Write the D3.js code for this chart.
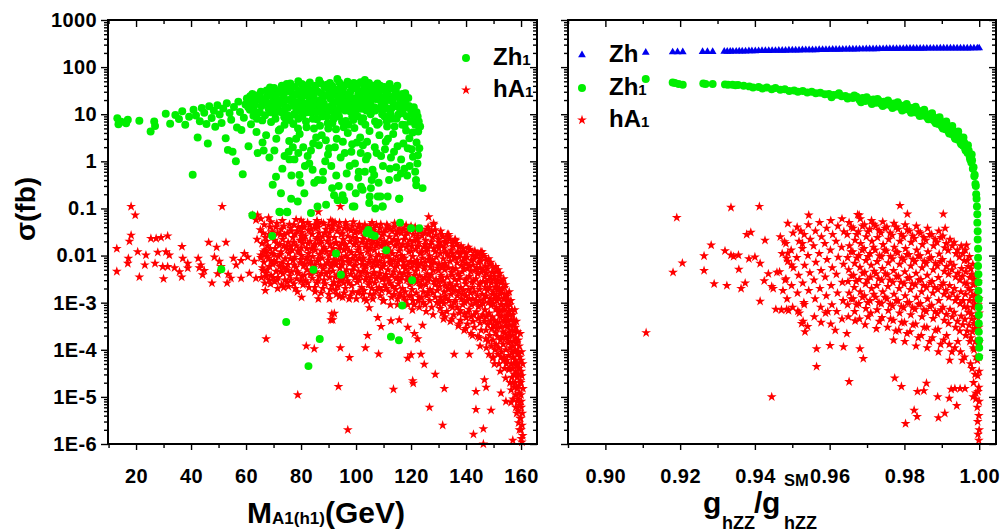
<!DOCTYPE html>
<html>
<head>
<meta charset="utf-8">
<script src="https://cdn.jsdelivr.net/npm/d3@7"></script>
<style>
  body { margin: 0; background: #fff; }
  text { font-family: "Liberation Sans", Arial, Helvetica, sans-serif; font-weight: bold; fill: #000; }
</style>
</head>
<body>
<svg id="chart" width="1002" height="532"></svg>
<script>
// ---------- axis ticks ----------
const yMajorTicks = [1e-6, 1e-5, 1e-4, 1e-3, 0.01, 0.1, 1, 10, 100, 1000];
const massLabelTicks = [20, 40, 60, 80, 100, 120, 140, 160];
const massMinorTicks = [10, 30, 50, 70, 90, 110, 130, 150];
const couplingLabelTicks = [0.90, 0.92, 0.94, 0.96, 0.98, 1.00];
const couplingMinorTicks = [0.89, 0.91, 0.93, 0.95, 0.97, 0.99];

// ---------- left panel: sigma vs M_A1(h1), [GeV, fb] ----------
const zh1VsMass = [
  [13.2,8.2],[13.6,6.1],[14.6,6.9],[16.4,6.4],[17.0,7.6],[21.2,7.3],[25.3,4.3],[26.6,7.0],[26.9,5.6],[30.8,10.2],
  [32.4,6.3],[34.3,9.6],[35.6,7.9],[36.8,11.5],[37.9,6.0],[39.3,8.8],[40.6,0.52],[40.9,12.5],[41.8,9.4],[42.4,3.2],
  [43.2,7.1],[43.9,13.5],[44.8,10.8],[45.6,6.2],[46.1,2.4],[46.6,14.8],[47.5,8.3],[48.3,11.9],[48.8,5.4],[49.6,15.5],
  [50.4,9.9],[51.1,6.5],[51.7,13.2],[52.6,3.1],[53.0,17.1],[53.4,1.75],[54.0,10.6],[54.6,7.6],[55.1,1.6],[55.6,14.2],
  [56.3,1.0],[56.7,5.2],[57.2,18.5],[57.8,11.2],[58.3,4.6],[58.8,0.53],[59.2,8.4],[59.8,16.0],[60.3,21.5],[60.9,2.1],
  [61.4,12.4],[61.8,6.1],[62.3,27],[62.7,9.3],[63.2,15.8],[63.8,4.2],[64.2,1.5],[64.5,20.5],[65.0,11.0],[65.4,30],
  [65.9,7.4],[66.4,1.7],[66.7,17.5],[67.3,3.6],[67.8,24],[68.2,13.0],[68.7,37],[69.1,6.8],[69.7,0.32],[70.0,19.5],
  [70.3,1.7],[70.5,10.2],[70.9,0.47],[71.2,28],[71.6,15.2],[72.1,0.085],[72.4,4.8],[72.7,0.21],[73.0,40],[73.4,22],
  [73.9,8.6],[74.0,1.3],[74.5,33],[74.9,0.085],[75.2,13.8],[75.7,2.7],[76.1,45],[76.4,0.16],[76.5,0.5],[76.8,18.6],
  [77.2,6.2],[77.6,1.1],[77.9,26],[78.3,11.4],[78.8,0.14],[79.0,50],[79.4,0.51],[79.5,3.8],[80.0,21],[80.5,9.2],
  [80.9,35],[81.2,0.21],[81.5,14.6],[82.0,5.3],[82.4,1.3],[82.6,42],[83.0,24],[83.6,0.08],[83.7,11.0],[84.2,0.66],
  [84.4,2.4],[84.9,30],[85.3,16.8],[85.8,7.8],[86.0,0.11],[86.1,0.4],[86.6,52],[87.0,20],[87.5,3.6],[87.9,0.4],
  [88.0,12.2],[88.6,38],[89.1,0.12],[89.2,25],[89.7,6.4],[90.2,1.9],[90.5,46],[91.0,15],[91.3,0.27],[91.6,31],
  [92.0,0.19],[92.1,9.6],[92.7,4.8],[93.2,56],[93.3,0.15],[93.6,22],[94.1,13.4],[94.6,40],[95.1,0.19],[95.2,2.6],
  [95.7,0.15],[95.8,18],[96.3,7.2],[96.9,49],[97.3,27],[97.6,0.29],[97.8,11.5],[98.3,1.6],[98.8,0.11],[98.9,36],
  [99.4,5.1],[99.9,0.21],[100.0,20],[100.5,44],[101.0,13],[101.5,3.2],[101.8,0.29],[102.1,30],[102.4,0.25],[102.6,8.2],
  [103.2,53],[103.6,1.1],[103.7,17],[104.3,24],[104.8,0.13],[104.9,4.4],[105.0,0.18],[105.4,0.27],[105.5,38],[106.0,0.66],
  [106.1,11.8],[106.6,0.51],[106.8,2.0],[107.2,21],[107.8,45],[107.9,0.18],[108.3,6.5],[108.9,0.18],[109.1,1.3],[109.2,15],
  [109.7,0.11],[109.9,33],[110.4,9.0],[110.9,26],[111.5,0.18],[111.6,3.0],[112.0,0.4],[112.2,44],[112.7,1.2],[112.8,13],
  [113.4,20],[114.0,5.5],[114.5,31],[115.1,2.1],[115.3,9.8],[115.7,0.16],[116.0,17],[116.3,0.55],[116.4,1.1],[116.9,27],
  [117.0,10.5],[117.6,0.7],[117.7,5.9],[118.2,4.5],[118.3,14],[118.8,1.9],[119.0,22],[119.4,3.1],[119.5,0.8],[120.0,12],
  [120.6,4.1],[120.7,1.25],[121.2,8.0],[121.8,0.4],[121.9,0.31],[122.0,2.5],[122.4,9.0],[122.5,1.35],[122.3,0.9],[122.6,4.3],
  [123.0,1.9],[124.2,0.27],
  [70.8,25],[72.0,12],[73.5,17],[75.0,9.5],[76.0,30],[77.5,15],[79.0,8],[80.2,27],[81.0,17],[82.2,11],
  [83.4,32],[84.3,8],[85.0,19],[86.3,13],[87.4,28],[88.3,17],[89.5,9],[90.0,34],[90.8,21],[91.8,13],
  [92.5,26],[93.8,9],[94.3,17],[95.0,29],[96.0,12],[96.6,22],[97.5,15],[98.2,41],[99.0,19],[99.7,11],
  [100.8,27],[101.3,17],[102.0,7],[102.8,21],[103.8,12],[104.5,33],[105.2,18],[106.4,28],[107.0,12],[108.0,30],
  [108.6,20],[109.5,10],[110.2,18],[111.0,13],[111.8,24],[113.0,8],[114.2,15],[115.6,23],[116.5,12],[117.8,19],
  [85.5,3.2],[89.0,2.8],[93.0,3.0],[97.0,4.0],[100.3,2.5],[104.0,2.6],[108.5,3.6],[111.3,5.5],[78.2,3.0],[74.0,6.0],
  [86.9,5.7],[91.4,6.5],[95.5,5.3],[99.0,7.5],[106.9,7.0],[113.5,3.8],[80.8,2.0],[88.8,1.0],[94.4,1.2],[101.7,1.5],
  [110.5,1.8],[75.5,1.6],[83.0,0.9],[97.7,0.8],[103.2,0.6],[114.6,0.75],[79.8,0.35],[92.8,0.5],[100.8,0.45],[108.2,0.35],
  [60.8,14],[61.5,24],[62.0,18],[62.9,12],[63.5,22],[64.0,8],[64.8,26],[65.6,15],[66.2,21],[66.9,9.5],
  [67.5,32],[68.0,17],[68.9,11],[69.4,27],[69.9,14],[70.2,36],[70.7,8],[71.4,20],[71.9,4.5],[72.3,31],
  [72.9,11],[73.7,26],[74.2,13],[74.8,44],[75.4,20],[75.9,7.5],[76.4,36],[77.0,23],[77.4,10],[77.8,38],
  [78.5,18],[78.9,5],[79.3,31],[79.7,14],[80.3,44],[80.7,12],[81.3,25],[81.8,7],[82.3,33],[82.8,18],
  [83.2,47],[83.9,14],[84.6,24],[84.7,5],[85.2,40],[85.7,11],[86.2,30],[86.8,16],[87.2,45],[87.7,9],
  [88.4,24],[88.9,14],[89.4,42],[89.9,5],[90.3,12],[90.9,28],[91.3,40],[91.9,8],[92.3,18],[92.9,33],
  [93.4,11],[93.9,47],[94.5,24],[94.9,7],[95.3,36],[95.9,14],[96.4,42],[96.8,18],[97.2,6],[97.9,30],
  [98.5,22],[98.6,9],[99.2,46],[99.6,14],[100.2,35],[100.7,9],[101.2,24],[101.6,48],[102.3,13],[102.9,38],
  [103.4,6],[103.9,28],[104.4,15],[104.7,46],[105.3,10],[105.8,24],[106.3,40],[106.7,14],[107.4,33],[107.7,6],
  [108.4,25],[108.8,40],[109.4,13],[109.8,22],[110.3,38],[110.7,14],[111.2,7],[111.4,30],[112.0,20],[112.5,10],
  [113.0,35],[113.6,16],[114.0,25],[114.7,8],[115.0,40],[115.5,14],[116.2,22],[116.8,6],[117.3,16],[117.9,28],
  [118.5,9],[119.2,15],[119.8,7],[120.5,10],[121.0,14],[121.5,6],[122.0,11],[122.8,7],[123.3,5.5],
  [66.0,2.5],[68.5,1.2],[71.0,3.0],[73.2,0.7],[75.8,1.1],[77.0,2.0],[79.0,1.5],[81.4,0.8],[83.6,1.7],[84.8,0.35],
  [86.5,2.2],[88.0,0.6],[89.8,1.4],[91.0,0.8],[92.3,2.0],[93.7,0.3],[95.9,1.5],[96.6,0.55],[98.6,2.3],[99.6,0.9],
  [101.0,0.6],[102.5,2.2],[104.2,1.3],[105.7,0.4],[107.5,1.5],[109.8,0.8],[110.8,2.6],[112.3,0.7],[113.8,1.6],[115.0,0.45],
  [117.2,2.4],[118.6,0.5],[120.2,1.8],[121.5,0.6],
  [51.0,0.0051],[62.3,0.072],[69.5,0.026],[72.4,0.083],[75.0,0.083],[74.6,3.9e-4],[82.7,4.5e-5],[86.8,1.7e-4],[92.7,0.011],[94.5,0.0039],
  [84.5,0.005],[99.4,0.11],[107.0,0.1],[109.6,0.11],[104.5,0.035],[105.5,0.028],[106.8,0.026],[103.8,0.03],[111.0,0.013],[116.0,0.05],
  [120.0,0.038],[123.0,0.038],[115.7,0.16],[120.4,0.003],[116.8,8.7e-4],[112.7,1.9e-4],[115.6,1.6e-4]
];

const hA1VsMass = [
  // low-mass tail
  [13.0,0.014],[13.0,0.0046],[17.6,0.02],[18.2,0.027],[18.2,0.11],[19.7,0.072],[17.2,0.0087],[17.0,0.0068],[20.6,0.012],[21.2,0.0035],
  [23.6,0.0102],[23.2,0.0063],[25.4,0.023],[27.3,0.023],[29.1,0.024],[31.5,0.026],[26.9,0.0068],[27.9,0.0117],[30.9,0.012],[32.1,0.0102],
  [29.7,0.0058],[31.5,0.0058],[34.0,0.0055],[35.8,0.0045],[36.6,0.0035],[30.0,0.0032],[36.7,0.0155],[37.0,0.0087],[38.8,0.0068],[38.8,0.0054],
  [42.6,0.0087],[43.6,0.0063],[44.2,0.0039],[44.8,0.0048],[43.0,0.0055],[46.4,0.019],[49.3,0.015],[47.6,0.0026],[48.5,0.0093],[50.3,0.0075],
  [50.9,0.0058],[49.7,0.0041],[51.3,0.11],[52.7,0.019],[53.5,0.004],[54.5,0.0033],[53.1,0.0026],[55.4,0.0087],[56.4,0.0063],[58.2,0.0078],
  [59.4,0.011],[60.6,0.0093],[61.2,0.0042],[58.2,0.0033],[63.0,0.0075],[63.6,0.0033],[64.0,0.022],[62.4,0.072],[64.2,0.072],[63.6,0.057],
  [65.4,0.06],[68.2,0.063],[65.4,0.0102],[67.3,0.012],[69.1,0.0075],[67.0,0.0018],[67.3,1.7e-4],[71.5,0.002],[80.2,0.0013],[81.9,1.2e-4],
  [84.8,1.05e-4],[78.8,1.1e-5],[91.5,4.3e-4],[91.2,5.8e-4],[86.3,0.0012],[90.3,0.0012],[94.0,0.0014],[86.3,0.085],[94.3,0.11],[80.0,0.056],
  [80.3,0.041],[86.0,0.048],[91.5,0.052],
  // scattered low values
  [94.3,1.1e-4],[97.6,6.8e-5],[103.4,1.1e-4],[108.2,8.1e-5],[104.2,2e-4],[93.6,1.66e-5],[97.0,2e-6],[113.6,1.45e-5],[120.6,2.2e-5],[120.8,1.95e-5],
  [118.8,6.6e-5],[120.0,7.8e-5],[123.6,8e-5],[124.8,4.9e-5],[126.7,6e-6],[128.8,3e-5],[131.5,2.5e-6],[132.1,1.5e-5],[135.7,8e-5],[141.2,8e-5],
  [142.7,1.6e-6],[143.6,5.4e-6],[143.6,1.3e-5],[146.3,2.1e-6],[146.3,1.0e-6],[146.7,2.3e-5],[147.3,1.6e-5],[149.1,5.2e-6],[152.7,1.2e-5],[154.5,8e-6],
  [156.4,7.6e-6],[149.7,6.6e-5],[157.0,1.2e-6],[92.1,5.9e-4],[90.9,4.3e-4],[94.0,0.00135],[104.8,7.8e-4],[107.9,4.8e-4],[109.1,3.1e-4],[112.7,4.1e-4],
  [115.7,4.3e-4],[118.8,3e-4],[121.2,2.2e-4],[122.4,1.7e-4],[124.2,3.3e-4],[126.4,0.066],[128.2,0.048],[133.7,0.028],[136.0,0.022],[145.4,0.012],
  // main band
  [65.2,0.035],[65.8,0.018],[65.4,0.009],[66.0,0.0055],[65.6,0.0034],
  [66.6,0.045],[67.1,0.024],[66.9,0.013],[66.5,0.0072],[67.2,0.0042],[66.8,0.0026],
  [68.3,0.028],[67.8,0.016],[68.1,0.0088],[67.7,0.005],[68.4,0.003],
  [69.0,0.052],[69.6,0.032],[69.2,0.011],[69.7,0.0065],[69.1,0.0038],
  [70.8,0.04],[70.3,0.021],[70.6,0.014],[70.2,0.0078],[70.9,0.0046],[70.4,0.0028],
  [71.5,0.03],[72.1,0.017],[71.7,0.0095],[72.2,0.0058],[71.6,0.0034],
  [73.2,0.055],[72.8,0.036],[73.3,0.022],[72.7,0.012],[73.1,0.007],[73.4,0.0041],[72.9,0.0024],
  [74.0,0.027],[74.6,0.015],[74.2,0.0085],[74.7,0.0052],[74.1,0.003],
  [75.8,0.046],[75.3,0.019],[75.6,0.011],[75.2,0.0064],[75.9,0.0037],[75.4,0.0022],
  [76.5,0.033],[77.0,0.024],[76.7,0.013],[77.1,0.0078],[76.6,0.0045],
  [78.2,0.058],[77.8,0.028],[78.3,0.016],[77.7,0.0092],[78.1,0.0056],[78.4,0.0032],[77.9,0.002],
  [79.0,0.04],[79.6,0.021],[79.2,0.012],[79.7,0.007],[79.1,0.0042],
  [80.8,0.05],[80.3,0.031],[80.6,0.018],[80.2,0.01],[80.9,0.006],[80.4,0.0036],[80.7,0.0024],
  [81.5,0.026],[82.1,0.014],[81.7,0.0083],[82.2,0.005],[81.6,0.0029],
  [83.2,0.044],[82.8,0.034],[83.3,0.02],[82.7,0.011],[83.1,0.0068],[83.4,0.004],[82.9,0.0021],
  [84.0,0.028],[84.6,0.016],[84.2,0.0095],[84.7,0.0055],[84.1,0.0033],
  [85.8,0.055],[85.3,0.038],[85.6,0.022],[85.2,0.013],[85.9,0.0075],[85.4,0.0045],[85.7,0.0026],[85.1,0.0017],
  [86.5,0.03],[87.0,0.018],[86.7,0.0105],[87.1,0.0062],[86.6,0.0036],
  [88.2,0.048],[87.8,0.025],[88.3,0.015],[87.7,0.0088],[88.1,0.0052],[88.4,0.003],[87.9,0.002],
  [89.0,0.036],[89.6,0.02],[89.2,0.012],[89.7,0.007],[89.1,0.0041],
  [90.8,0.056],[90.3,0.03],[90.6,0.017],[90.2,0.0098],[90.9,0.0058],[90.4,0.0034],[90.7,0.0019],
  [91.5,0.042],[92.1,0.024],[91.7,0.014],[92.2,0.008],[91.6,0.0047],[92.0,0.0027],
  [93.2,0.033],[92.8,0.019],[93.3,0.011],[92.7,0.0064],[93.1,0.0038],[93.4,0.0022],[92.9,0.0015],
  [94.0,0.05],[94.6,0.028],[94.2,0.016],[94.7,0.0092],[94.1,0.0054],[94.5,0.0031],
  [95.8,0.038],[95.3,0.022],[95.6,0.013],[95.2,0.0075],[95.9,0.0044],[95.4,0.0026],[95.7,0.0016],
  [96.5,0.045],[97.0,0.026],[96.7,0.015],[97.1,0.0085],[96.6,0.005],[96.9,0.0029],
  [98.2,0.034],[97.8,0.02],[98.3,0.0115],[97.7,0.0068],[98.1,0.004],[98.4,0.0023],[97.9,0.0014],
  [99.0,0.052],[99.6,0.03],[99.2,0.017],[99.7,0.01],[99.1,0.0058],[99.5,0.0034],
  [100.8,0.04],[100.3,0.023],[100.6,0.013],[100.2,0.0078],[100.9,0.0046],[100.4,0.0027],[100.7,0.0016],
  [101.5,0.032],[102.1,0.019],[101.7,0.011],[102.2,0.0064],[101.6,0.0037],[102.0,0.0021],
  [103.2,0.045],[102.8,0.026],[103.3,0.015],[102.7,0.0088],[103.1,0.0052],[103.4,0.003],[102.9,0.0018],[103.0,0.0012],
  [104.0,0.036],[104.6,0.021],[104.2,0.012],[104.7,0.0071],[104.1,0.0042],[104.5,0.0024],
  [105.8,0.05],[105.3,0.029],[105.6,0.017],[105.2,0.0098],[105.9,0.0057],[105.4,0.0033],[105.7,0.002],
  [106.5,0.038],[107.0,0.022],[106.7,0.013],[107.1,0.0076],[106.6,0.0044],[106.9,0.0026],[106.4,0.0015],
  [108.2,0.031],[107.8,0.018],[108.3,0.0105],[107.7,0.0062],[108.1,0.0036],[108.4,0.0021],
  [109.0,0.046],[109.6,0.027],[109.2,0.016],[109.7,0.0092],[109.1,0.0054],[109.5,0.0031],[109.3,0.0018],[109.8,0.0011],
  [110.8,0.035],[110.3,0.02],[110.6,0.0118],[110.2,0.0069],[110.9,0.004],[110.4,0.0024],
  [111.5,0.042],[112.1,0.025],[111.7,0.0145],[112.2,0.0085],[111.6,0.005],[112.0,0.0029],[111.9,0.0017],
  [113.2,0.033],[112.8,0.019],[113.3,0.011],[112.7,0.0065],[113.1,0.0038],[113.4,0.0022],[112.9,0.0013],
  [114.0,0.048],[114.6,0.028],[114.2,0.016],[114.7,0.0095],[114.1,0.0056],[114.5,0.0032],[114.4,0.0019],
  [115.8,0.037],[115.3,0.021],[115.6,0.0125],[115.2,0.0073],[115.9,0.0043],[115.4,0.0025],[115.7,0.0014],[115.1,0.0009],
  [116.5,0.03],[117.0,0.017],[116.7,0.01],[117.1,0.0059],[116.6,0.0035],[116.9,0.002],
  [118.2,0.044],[117.8,0.026],[118.3,0.015],[117.7,0.0088],[118.1,0.0051],[118.4,0.003],[117.9,0.0017],[118.0,0.0011],
  [119.0,0.036],[119.6,0.021],[119.2,0.012],[119.7,0.0071],[119.1,0.0042],[119.5,0.0024],[119.4,0.0014],
  [120.8,0.028],[120.3,0.016],[120.6,0.0095],[120.2,0.0056],[120.9,0.0033],[120.4,0.0019],[120.7,0.0011],[120.5,0.0007],
  [121.5,0.04],[122.1,0.023],[121.7,0.0135],[122.2,0.008],[121.6,0.0046],[122.0,0.0027],[121.9,0.0016],
  [123.2,0.032],[122.8,0.019],[123.3,0.011],[122.7,0.0064],[123.1,0.0037],[123.4,0.0022],[122.9,0.0013],[123.0,0.0008],
  [124.0,0.026],[124.6,0.015],[124.2,0.0088],[124.7,0.0052],[124.1,0.003],[124.5,0.0017],[124.4,0.001],
  [125.8,0.036],[125.3,0.021],[125.6,0.0122],[125.2,0.0071],[125.9,0.0041],[125.4,0.0024],[125.7,0.0014],[125.5,0.00065],
  [126.5,0.029],[127.0,0.017],[126.7,0.0098],[127.1,0.0057],[126.6,0.0033],[126.9,0.0019],[126.8,0.0011],
  [128.2,0.045],[127.8,0.024],[128.3,0.014],[127.7,0.0082],[128.1,0.0048],[128.4,0.0028],[127.9,0.0016],[128.0,0.00055],
  [129.0,0.027],[129.6,0.016],[129.2,0.0092],[129.7,0.0054],[129.1,0.0031],[129.5,0.0018],[129.4,0.001],
  [130.8,0.033],[130.3,0.019],[130.6,0.011],[130.2,0.0065],[130.9,0.0038],[130.4,0.0022],[130.7,0.0013],[130.5,0.00075],
  [131.5,0.025],[132.1,0.0145],[131.7,0.0085],[132.2,0.005],[131.6,0.0029],[132.0,0.0017],[131.9,0.00095],[131.8,0.00045],
  [133.2,0.028],[132.8,0.018],[133.3,0.0105],[132.7,0.006],[133.1,0.0035],[133.4,0.002],[132.9,0.0012],[133.0,0.00065],
  [134.0,0.022],[134.6,0.013],[134.2,0.0075],[134.7,0.0044],[134.1,0.0026],[134.5,0.0015],[134.4,0.00085],[134.3,0.0004],
  [135.8,0.02],[135.3,0.0155],[135.6,0.009],[135.2,0.0053],[135.9,0.0031],[135.4,0.0018],[135.7,0.001],[135.5,0.00055],
  [136.5,0.018],[137.0,0.012],[136.7,0.007],[137.1,0.0041],[136.6,0.0024],[136.9,0.0014],[136.8,0.0008],[137.2,0.00032],
  [138.2,0.016],[137.8,0.0105],[138.3,0.0062],[137.7,0.0036],[138.1,0.0021],[138.4,0.0012],[137.9,0.00068],[138.0,0.00042],
  [139.0,0.014],[139.6,0.0088],[139.2,0.0052],[139.7,0.003],[139.1,0.0018],[139.5,0.001],[139.4,0.00058],[139.3,0.00026],
  [140.8,0.015],[140.3,0.0092],[140.6,0.0054],[140.2,0.0032],[140.9,0.0019],[140.4,0.0011],[140.7,0.00062],[140.5,0.00035],
  [141.5,0.013],[142.1,0.0078],[141.7,0.0046],[142.2,0.0027],[141.6,0.0016],[142.0,0.0009],[141.9,0.0005],[141.8,0.00022],
  [143.2,0.0125],[142.8,0.0083],[143.3,0.0049],[142.7,0.0029],[143.1,0.0017],[143.4,0.00098],[142.9,0.00055],[143.0,0.0003],
  [144.0,0.011],[144.6,0.007],[144.2,0.0041],[144.7,0.0024],[144.1,0.0014],[144.5,0.00082],[144.4,0.00046],[144.3,0.00019],
  [145.8,0.012],[145.3,0.0075],[145.6,0.0044],[145.2,0.0026],[145.9,0.0015],[145.4,0.00088],[145.7,0.0005],[145.5,0.00026],[145.1,0.00012],
  [146.5,0.0095],[147.0,0.006],[146.7,0.0035],[147.1,0.0021],[146.6,0.0012],[146.9,0.0007],[146.8,0.0004],[147.2,0.00017],
  [148.2,0.0085],[147.8,0.0052],[148.3,0.0031],[147.7,0.0018],[148.1,0.001],[148.4,0.0006],[147.9,0.00034],[148.0,0.00015],[148.3,0.00008],
  [149.0,0.0072],[149.6,0.0044],[149.2,0.0026],[149.7,0.0015],[149.1,0.00088],[149.5,0.0005],[149.4,0.00028],[149.3,0.00012],
  [150.8,0.0058],[150.3,0.0036],[150.6,0.0021],[150.2,0.0012],[150.9,0.00072],[150.4,0.00042],[150.7,0.00023],[150.5,0.0001],[150.3,0.00005],
  [151.7,0.005],[151.3,0.003],[151.6,0.0018],[151.2,0.0011],[151.8,0.00062],[151.4,0.00036],[151.5,0.00019],[151.6,0.00008],
  [152.3,0.0042],[152.7,0.0026],[152.4,0.0015],[152.8,0.00088],[152.2,0.00052],[152.6,0.0003],[152.5,0.00016],[152.7,0.00007],[152.4,0.000035],
  [153.7,0.0032],[153.3,0.002],[153.6,0.0012],[153.2,0.0007],[153.8,0.00042],[153.4,0.00024],[153.5,0.00013],[153.6,0.00006],
  [154.3,0.0024],[154.7,0.0015],[154.4,0.0009],[154.8,0.00055],[154.2,0.00032],[154.6,0.00018],[154.5,0.0001],[154.7,0.00005],[154.4,0.000025],
  [155.7,0.0017],[155.3,0.0011],[155.6,0.00066],[155.2,0.0004],[155.8,0.00024],[155.4,0.00014],[155.5,0.000075],[155.6,0.000038],
  [156.3,0.0011],[156.7,0.0007],[156.4,0.00043],[156.8,0.00026],[156.2,0.00015],[156.6,0.00009],[156.5,0.00005],[156.7,0.000026],[156.4,0.000014],
  [157.7,0.0007],[157.3,0.00042],[157.6,0.00025],[157.2,0.00015],[157.8,0.00009],[157.4,0.000052],[157.5,0.00003],[157.6,0.000016],
  [158.3,0.0004],[158.7,0.00024],[158.4,0.00014],[158.8,0.00008],[158.2,0.000046],[158.6,0.000026],[158.5,0.000015],[158.7,0.000008],[158.4,0.0000045],
  [159.7,0.00022],[159.3,0.00012],[159.6,0.00007],[159.2,0.00004],[159.8,0.000022],[159.4,0.000012],[159.5,0.0000065],[159.6,0.0000035],[159.4,0.000002],
  [160.2,0.00009],[160.6,0.00005],[160.3,0.000028],[160.7,0.000015],[160.1,0.000008],[160.5,0.0000045],[160.4,0.0000025],[160.6,0.0000015],[160.3,0.0000011],
  // main band, in-between values
  [66.2,0.03],[66.3,0.012],[66.1,0.0048],[67.4,0.02],[67.5,0.0095],[67.3,0.0036],[68.7,0.04],[68.8,0.014],[68.6,0.0058],[68.9,0.0025],
  [70.0,0.025],[70.1,0.0105],[69.9,0.0034],[71.2,0.048],[71.3,0.018],[71.1,0.0072],[71.2,0.003],[72.5,0.028],[72.4,0.0105],[72.6,0.0045],
  [73.7,0.042],[73.8,0.016],[73.6,0.0056],[73.7,0.0021],[75.0,0.03],[75.1,0.0135],[74.9,0.0048],[75.0,0.0027],[76.2,0.038],[76.3,0.0155],
  [76.1,0.0085],[76.2,0.003],[77.4,0.045],[77.3,0.019],[77.5,0.0063],[77.4,0.0025],[78.7,0.033],[78.8,0.0125],[78.6,0.0045],[78.7,0.0017],
  [80.0,0.026],[80.1,0.0145],[79.9,0.0082],[80.0,0.0029],[81.2,0.04],[81.1,0.022],[81.3,0.0065],[81.2,0.0038],[82.4,0.05],[82.5,0.018],
  [82.3,0.009],[82.4,0.0026],[83.7,0.036],[83.8,0.0135],[83.6,0.0075],[83.7,0.0045],[85.0,0.045],[85.1,0.017],[84.9,0.0062],[85.0,0.0021],
  [86.2,0.04],[86.1,0.024],[86.3,0.0085],[86.2,0.0029],[87.4,0.05],[87.3,0.02],[87.5,0.0125],[87.4,0.0042],[87.3,0.0016],[88.7,0.03],
  [88.8,0.0135],[88.6,0.0063],[88.7,0.0025],[90.0,0.044],[90.1,0.024],[89.9,0.008],[90.0,0.0045],[90.1,0.0015],[91.2,0.036],[91.1,0.012],
  [91.3,0.0068],[91.2,0.0023],[92.4,0.05],[92.5,0.018],[92.3,0.0098],[92.4,0.0035],[92.5,0.0018],[93.7,0.04],[93.8,0.0135],[93.6,0.0078],
  [93.7,0.0027],[95.0,0.03],[95.1,0.018],[94.9,0.0062],[95.0,0.0035],[95.1,0.0013],[96.2,0.05],[96.1,0.017],[96.3,0.0098],[96.2,0.0036],
  [96.1,0.002],[97.4,0.036],[97.5,0.0125],[97.3,0.0072],[97.4,0.0026],[97.5,0.0012],[98.7,0.042],[98.8,0.024],[98.6,0.0085],[98.7,0.0048],
  [98.8,0.0017],[100.0,0.033],[100.1,0.0185],[99.9,0.0062],[100.0,0.0035],[100.1,0.0012],[101.2,0.046],[101.1,0.015],[101.3,0.0088],[101.2,0.003],
  [101.1,0.0017],[102.4,0.038],[102.5,0.022],[102.3,0.0075],[102.4,0.0045],[102.5,0.0015],[103.7,0.03],[103.8,0.0175],[103.6,0.006],[103.7,0.0035],
  [103.8,0.0011],[105.0,0.042],[105.1,0.014],[104.9,0.008],[105.0,0.0027],[105.1,0.0015],[106.2,0.034],[106.1,0.02],[106.3,0.0068],[106.2,0.004],
  [106.1,0.0012],[107.4,0.045],[107.5,0.016],[107.3,0.0092],[107.4,0.0032],[107.5,0.0018],[108.7,0.038],[108.8,0.022],[108.6,0.0075],[108.7,0.0042],
  [108.8,0.0014],[110.0,0.03],[110.1,0.0165],[109.9,0.0058],[110.0,0.0033],[110.1,0.0011],[111.2,0.045],[111.1,0.018],[111.3,0.0098],[111.2,0.0034],
  [111.1,0.002],[112.4,0.036],[112.5,0.0125],[112.3,0.0072],[112.4,0.0026],[112.5,0.0009],[113.7,0.04],[113.8,0.022],[113.6,0.0078],[113.7,0.0045],
  [113.8,0.0015],[115.0,0.032],[115.1,0.0175],[114.9,0.006],[115.0,0.0034],[115.1,0.0012],[116.2,0.045],[116.1,0.0145],[116.3,0.0085],[116.2,0.003],
  [116.1,0.0016],[117.4,0.036],[117.5,0.022],[117.3,0.0072],[117.4,0.0042],[117.5,0.0013],[118.7,0.03],[118.8,0.0175],[118.6,0.0062],[118.7,0.0035],
  [118.8,0.0009],[120.0,0.042],[120.1,0.0125],[119.9,0.0075],[120.0,0.0027],[120.1,0.0014],[121.2,0.034],[121.1,0.02],[121.3,0.0068],[121.2,0.0038],
  [121.1,0.0009],[122.4,0.026],[122.5,0.0155],[122.3,0.0055],[122.4,0.003],[122.5,0.0011],[123.7,0.036],[123.8,0.012],[123.6,0.0068],[123.7,0.0024],
  [123.8,0.0013],[125.0,0.03],[125.1,0.017],[124.9,0.0058],[125.0,0.0034],[125.1,0.0009],[126.2,0.04],[126.1,0.014],[126.3,0.0082],[126.2,0.0029],
  [126.1,0.0016],[127.4,0.033],[127.5,0.0195],[127.3,0.0068],[127.4,0.0039],[127.5,0.0008],[128.7,0.035],[128.8,0.012],[128.6,0.007],[128.7,0.0024],
  [128.8,0.0013],[130.0,0.022],[130.1,0.0145],[129.9,0.0048],[130.0,0.0027],[130.1,0.00095],[131.2,0.028],[131.1,0.016],[131.3,0.0058],[131.2,0.0034],
  [131.1,0.0011],[131.3,0.0006],[132.4,0.02],[132.5,0.012],[132.3,0.0068],[132.4,0.0024],[132.5,0.0014],[132.3,0.0005],[133.7,0.025],[133.8,0.0095],
  [133.6,0.0055],[133.7,0.0019],[133.8,0.0011],[135.0,0.018],[135.1,0.011],[134.9,0.0038],[135.0,0.0022],[135.1,0.0008],[134.9,0.00045],[136.2,0.021],
  [136.1,0.0088],[136.3,0.0052],[136.2,0.0018],[136.1,0.0011],[137.4,0.015],[137.5,0.0092],[137.3,0.0031],[137.4,0.0017],[137.5,0.0006],[137.3,0.00035],
  [138.7,0.012],[138.8,0.0075],[138.6,0.0045],[138.7,0.0015],[138.8,0.0009],[140.0,0.011],[140.1,0.0068],[139.9,0.0025],[140.0,0.0014],[140.1,0.00048],
  [139.9,0.00028],[141.2,0.0135],[141.1,0.006],[141.3,0.0036],[141.2,0.0012],[141.1,0.00072],[142.4,0.01],[142.5,0.0063],[142.3,0.0021],[142.4,0.0012],
  [142.5,0.0004],[142.3,0.0002],[143.7,0.0098],[143.8,0.0055],[143.6,0.0032],[143.7,0.0011],[143.8,0.00064],[145.0,0.0088],[145.1,0.0055],[144.9,0.0019],
  [145.0,0.0011],[145.1,0.00037],[144.9,0.00018],[146.2,0.0105],[146.1,0.0048],[146.3,0.0028],[146.2,0.00095],[146.1,0.00055],[147.4,0.0078],[147.5,0.0042],
  [147.3,0.0026],[147.4,0.0014],[147.5,0.0005],[147.3,0.00026],[147.4,0.00011],[148.7,0.0065],[148.8,0.0036],[148.6,0.0021],[148.7,0.0012],[148.8,0.0004],
  [148.6,0.0002],[149.9,0.0055],[150.0,0.0031],[149.8,0.0017],[149.9,0.00095],[150.0,0.00033],[149.8,0.00016],[149.9,0.00007],[151.0,0.0045],[151.1,0.0025],
  [150.9,0.0014],[151.0,0.0008],[151.1,0.00028],[150.9,0.00013],[152.0,0.0036],[152.1,0.002],[151.9,0.0012],[152.0,0.00068],[152.1,0.00038],[151.9,0.00011],
  [152.0,0.00005],[153.0,0.0028],[153.1,0.0016],[152.9,0.00092],[153.0,0.00052],[153.1,0.00018],[152.9,0.00009],[154.0,0.0021],[154.1,0.0012],[153.9,0.0007],
  [154.0,0.0004],[154.1,0.00022],[153.9,0.00007],[154.0,0.00004],[155.0,0.0014],[155.1,0.00085],[154.9,0.0005],[155.0,0.0003],[155.1,0.00017],[154.9,0.00006],
  [156.0,0.0009],[156.1,0.00055],[155.9,0.00033],[156.0,0.0002],[156.1,0.00011],[155.9,0.00004],[156.0,0.00002],[157.0,0.00055],[157.1,0.00033],[156.9,0.0002],
  [157.0,0.00012],[157.1,0.00007],[156.9,0.00004],[157.0,0.00002],[157.1,0.000009],[158.0,0.0003],[158.1,0.00018],[157.9,0.0001],[158.0,0.00006],[158.1,0.000035],
  [157.9,0.00002],[158.0,0.000011],[158.1,0.000006],[159.0,0.00016],[159.1,0.00009],[158.9,0.00005],[159.0,0.00003],[159.1,0.000017],[158.9,0.000009],[159.0,0.000005],
  [159.1,0.0000028],[160.0,0.00006],[160.1,0.000035],[159.9,0.00002],[160.0,0.000011],[160.1,0.000006],[159.9,0.0000035],[160.0,0.000002],[160.1,0.0000013]
];

// ---------- right panel: sigma vs g_hZZ / g_hZZ^SM ----------
const zhVsCoupling = [
  [0.9108,205],[0.9180,208],[0.9193,209],[0.9207,209],[0.9260,212],[0.9273,212],[0.9287,213],[0.9318,214],[0.9326,215],[0.9334,215],
  [0.9341,216],[0.9350,216],[0.9358,217],[0.9366,218],[0.9375,218],[0.9384,219],[0.9392,220],[0.9401,220],[0.9410,221],[0.9419,222],
  [0.9428,222],[0.9437,223],[0.9446,224],[0.9455,224],[0.9464,225],[0.9473,226],[0.9482,226],[0.9491,227],[0.9500,228],[0.9509,228],
  [0.9518,229],[0.9527,230],[0.9536,230],[0.9545,231],[0.9554,232],[0.9563,232],[0.9572,233],[0.9581,234],[0.9590,234],[0.9599,235],
  [0.9608,236],[0.9617,236],[0.9626,237],[0.9635,238],[0.9644,238],[0.9653,239],[0.9662,240],[0.9671,240],[0.9680,241],[0.9689,241],
  [0.9698,242],[0.9707,242],[0.9716,243],[0.9725,243],[0.9734,244],[0.9743,244],[0.9752,245],[0.9761,245],[0.9770,246],[0.9779,246],
  [0.9788,247],[0.9797,247],[0.9806,248],[0.9815,248],[0.9824,248],[0.9833,249],[0.9842,249],[0.9851,249],[0.9860,250],[0.9869,250],
  [0.9878,250],[0.9887,250],[0.9896,251],[0.9905,251],[0.9914,251],[0.9923,251],[0.9932,252],[0.9941,252],[0.9950,252],[0.9959,252],
  [0.9968,252],[0.9977,252],[0.9986,253],[0.9995,253],[1.0,253]
];

const zh1VsCoupling = [
  [0.9108,56],[0.9180,47],[0.9186,46],[0.9196,44],[0.9207,42],[0.9262,45],[0.9268,44],[0.9287,44],[0.9320,43],[0.9328,42],
  [0.9340,42],[0.9348,41],[0.9355,41.5],[0.9370,40],[0.9385,39],[0.9395,37],[0.9410,38],[0.9420,35],[0.9432,37],[0.9445,34],
  [0.9455,36],[0.9468,33],[0.9480,34],[0.9492,31],[0.9505,32],[0.9515,30],[0.9528,31],[0.9540,29],[0.9552,30],[0.9563,28],
  [0.9575,28.5],[0.9587,26.5],[0.9598,27],[0.9610,25.5],[0.9620,26],[0.9632,24],[0.9642,24.5],[0.9653,23],[0.9662,22],[0.9672,23.5],
  [0.9680,20],[0.9688,22],[0.9695,19],[0.9702,21],[0.9710,18.5],[0.9717,20.5],[0.9724,17.5],[0.9731,19.5],[0.9738,16.5],[0.9745,18.5],
  [0.9752,16],[0.9758,17.8],[0.9765,15],[0.9772,17],[0.9778,14.5],[0.9785,16],[0.9791,13.5],[0.9797,15.2],[0.9803,12.8],[0.9809,14.5],
  [0.9815,12],[0.9821,13.5],[0.9827,11],[0.9833,12.6],[0.9838,10.2],[0.9844,11.5],[0.9850,9.4],[0.9855,10.8],[0.9861,8.6],[0.9866,9.8],
  [0.9871,7.8],[0.9876,9.0],[0.9881,7.0],[0.9886,8.2],[0.9891,6.2],[0.9896,7.3],[0.9900,5.5],[0.9905,6.5],[0.9910,4.8],[0.9914,5.8],
  [0.9918,4.3],[0.9922,5.1],[0.9926,3.8],[0.9930,4.5],[0.9934,3.3],[0.9938,3.9],[0.9942,2.9],[0.9946,3.4],[0.9950,2.5],[0.9954,2.9],
  [0.9957,2.15],[0.9960,2.5],[0.9963,1.8],[0.9966,2.1],[0.9969,1.5],[0.9972,1.7],[0.9975,1.2],[0.9977,1.35],[0.9979,0.95],[0.9981,1.05],
  [0.9983,0.7],[0.9985,0.75],[0.9987,0.48],[0.9988,0.52],[0.9990,0.33],[0.9991,0.3],[0.9992,0.2],[0.9993,0.16],[0.9994,0.11],[0.9995,0.075],
  [0.9995,0.05],[0.9996,0.033],[0.9996,0.022],[0.9997,0.014],[0.9997,0.009],[0.9997,0.006],[0.9998,0.004],[0.9998,0.0027],[0.9998,0.0018],[0.9999,0.0012],
  [0.9999,8e-4],[0.9999,5.5e-4],[0.9999,3.6e-4],[0.9999,2.4e-4],[1.0,1.6e-4],[1.0,1.1e-4],[1.0,7e-5],
  [0.9605,23],[0.9625,28],[0.9648,21.5],[0.9666,25],[0.9684,18],[0.9699,23],[0.9713,16.5],[0.9728,21],[0.9742,15],[0.9756,19.5],
  [0.9768,13.5],[0.9782,18],[0.9794,12],[0.9806,16.5],[0.9818,10.8],[0.9830,14.5],[0.9841,9.2],[0.9853,12.5],[0.9864,7.8],[0.9874,10.5],
  [0.9884,6.4],[0.9894,8.6],[0.9903,5.0],[0.9912,7.0],[0.9920,3.9],[0.9928,5.6],[0.9936,3.0],[0.9944,4.3],[0.9952,2.3],[0.9958,3.2],
  [0.9964,1.7],[0.9970,2.2],[0.9976,1.1],[0.9980,1.4]
];

const hA1VsCoupling = [
  // sparse part
  [0.9109,2.3e-4],[0.9191,0.064],[0.9181,0.0044],[0.9206,0.0069],[0.9264,0.0098],[0.9264,0.0048],[0.9291,0.0025],[0.9283,0.0166],[0.9320,0.0126],[0.9336,0.0102],
  [0.9343,0.0095],[0.9356,0.0102],[0.9336,0.105],[0.9412,0.11],[0.9325,0.0023],[0.9357,0.0051],[0.9363,0.002],[0.9374,0.0026],[0.9378,0.028],[0.9389,0.031],
  [0.9384,0.0085],[0.9400,0.0093],[0.9414,0.0068],[0.9414,0.00107],[0.9425,0.0029],[0.9427,0.021],[0.9436,0.0041],[0.9459,0.0044],[0.9445,0.0022],[0.9449,0.002],
  [0.9445,1.0e-5],[0.9456,7.2e-4],[0.9485,7.2e-4],[0.9490,6.8e-4],[0.9479,0.0195],[0.9488,0.048],[0.9485,0.0087],[0.9488,0.0112],[0.9483,0.0032],[0.9498,0.0063],
  [0.9515,6.6e-4],[0.9523,0.033],[0.9527,0.018],[0.9525,3.6e-4],[0.9534,2.4e-4],[0.9541,3.1e-4],[0.9532,9.1e-4],[0.9544,0.072],[0.9565,1.05e-4],[0.9565,4.4e-5],
  [0.9577,3.8e-4],[0.9601,1.23e-4],[0.9595,6.5e-4],[0.9637,1.15e-4],[0.9652,2.1e-5],[0.9615,2.6e-4],[0.9646,2.2e-4],[0.9668,4.1e-4],[0.9681,1.05e-4],[0.9690,6.5e-5],
  [0.9675,0.074],[0.9679,0.072],[0.9788,0.115],[0.9808,0.076],[0.9904,0.076],[0.9909,0.038],[0.9966,0.0166],[0.9774,2.5e-5],[0.9792,1.66e-5],[0.9803,2.7e-6],
  [0.9826,5.2e-6],[0.9834,3.8e-6],[0.9835,1.3e-5],[0.9852,1.35e-5],[0.9859,1.95e-5],[0.9889,1.0e-5],[0.9891,3.6e-6],[0.9908,4.5e-6],[0.9920,9.3e-6],[0.9940,6.5e-6],
  [0.9925,1.45e-5],[0.9935,1.5e-5],[0.9949,1.5e-5],[0.9962,1.5e-5],[0.9984,1.0e-5],[0.9991,9e-6],
  // medium-density part
  [0.9468,0.025],[0.9473,0.011],[0.9466,0.0045],[0.9475,0.0018],[0.9471,7e-4],
  [0.9483,0.018],[0.9488,0.0075],[0.9481,0.003],[0.9486,0.0012],
  [0.9502,0.03],[0.9497,0.013],[0.9503,0.0055],[0.9498,0.0023],[0.9501,8e-4],
  [0.9513,0.04],[0.9518,0.02],[0.9512,0.009],[0.9517,0.0038],[0.9514,0.0016],[0.9519,6e-4],
  [0.9532,0.028],[0.9527,0.014],[0.9533,0.0062],[0.9528,0.0026],[0.9531,0.001],[0.9529,4e-4],
  [0.9543,0.045],[0.9548,0.022],[0.9542,0.01],[0.9547,0.0043],[0.9544,0.0018],
  [0.9562,0.033],[0.9557,0.016],[0.9563,0.0072],[0.9558,0.003],[0.9561,0.0012],[0.9559,5e-4],
  [0.9573,0.05],[0.9578,0.025],[0.9572,0.011],[0.9577,0.0048],[0.9574,0.002],[0.9576,8e-4],
  [0.9592,0.038],[0.9587,0.018],[0.9593,0.0082],[0.9588,0.0035],[0.9591,0.0014],[0.9589,6e-4],
  [0.9603,0.055],[0.9608,0.028],[0.9602,0.013],[0.9607,0.0055],[0.9604,0.0023],[0.9606,9e-4],[0.9603,3.5e-4],
  [0.9622,0.042],[0.9617,0.02],[0.9623,0.0092],[0.9618,0.004],[0.9621,0.0016],[0.9619,6.5e-4],
  [0.9633,0.06],[0.9638,0.032],[0.9632,0.015],[0.9637,0.0065],[0.9634,0.0027],[0.9636,0.0011],[0.9633,4.5e-4],
  // dense part
  [0.9652,0.05],[0.9647,0.028],[0.9653,0.016],[0.9648,0.009],[0.9651,0.005],[0.9649,0.0028],[0.9652,0.0016],[0.9648,9e-4],[0.9650,5e-4],
  [0.9663,0.038],[0.9668,0.021],[0.9662,0.012],[0.9667,0.0068],[0.9664,0.0038],[0.9666,0.0021],[0.9663,0.0012],[0.9667,6.5e-4],
  [0.9682,0.06],[0.9677,0.032],[0.9683,0.018],[0.9678,0.01],[0.9681,0.0056],[0.9679,0.0031],[0.9682,0.0017],[0.9678,9.5e-4],[0.9680,4.5e-4],
  [0.9693,0.045],[0.9698,0.025],[0.9692,0.014],[0.9697,0.0078],[0.9694,0.0044],[0.9696,0.0025],[0.9693,0.0014],[0.9697,7.5e-4],[0.9695,3.4e-4],
  [0.9712,0.055],[0.9707,0.036],[0.9713,0.02],[0.9708,0.011],[0.9711,0.0062],[0.9709,0.0035],[0.9712,0.002],[0.9708,0.0011],[0.9710,6e-4],
  [0.9723,0.042],[0.9728,0.024],[0.9722,0.013],[0.9727,0.0074],[0.9724,0.0041],[0.9726,0.0023],[0.9723,0.0013],[0.9727,7e-4],[0.9725,2.8e-4],
  [0.9742,0.052],[0.9737,0.03],[0.9743,0.017],[0.9738,0.0095],[0.9741,0.0053],[0.9739,0.003],[0.9742,0.0017],[0.9738,9.5e-4],[0.9740,4.8e-4],
  [0.9753,0.04],[0.9758,0.022],[0.9752,0.0125],[0.9757,0.007],[0.9754,0.0039],[0.9756,0.0022],[0.9753,0.0012],[0.9757,6.8e-4],[0.9755,3e-4],
  [0.9772,0.048],[0.9767,0.027],[0.9773,0.015],[0.9768,0.0085],[0.9771,0.0048],[0.9769,0.0027],[0.9772,0.0015],[0.9768,8.5e-4],[0.9770,4.2e-4],[0.9771,1.6e-4],
  [0.9783,0.036],[0.9788,0.02],[0.9782,0.0115],[0.9787,0.0065],[0.9784,0.0036],[0.9786,0.002],[0.9783,0.0011],[0.9787,6e-4],[0.9785,2.6e-4],
  [0.9802,0.045],[0.9797,0.025],[0.9803,0.014],[0.9798,0.008],[0.9801,0.0045],[0.9799,0.0025],[0.9802,0.0014],[0.9798,7.8e-4],[0.9800,3.8e-4],[0.9801,1.5e-4],
  [0.9813,0.033],[0.9818,0.019],[0.9812,0.0105],[0.9817,0.006],[0.9814,0.0034],[0.9816,0.0019],[0.9813,0.001],[0.9817,5.5e-4],[0.9815,2.4e-4],
  [0.9832,0.042],[0.9827,0.023],[0.9833,0.013],[0.9828,0.0074],[0.9831,0.0042],[0.9829,0.0024],[0.9832,0.0013],[0.9828,7.2e-4],[0.9830,3.5e-4],[0.9831,1.2e-4],
  [0.9843,0.03],[0.9848,0.017],[0.9842,0.0098],[0.9847,0.0055],[0.9844,0.0031],[0.9846,0.0017],[0.9843,9.5e-4],[0.9847,5e-4],[0.9845,2e-4],
  [0.9862,0.038],[0.9857,0.021],[0.9863,0.012],[0.9858,0.0068],[0.9861,0.0038],[0.9859,0.0021],[0.9862,0.0012],[0.9858,6.5e-4],[0.9860,3e-4],[0.9861,1.1e-4],
  [0.9873,0.028],[0.9878,0.016],[0.9872,0.009],[0.9877,0.005],[0.9874,0.0028],[0.9876,0.0016],[0.9873,8.8e-4],[0.9877,4.6e-4],[0.9875,1.8e-4],
  [0.9892,0.033],[0.9887,0.019],[0.9893,0.0108],[0.9888,0.006],[0.9891,0.0034],[0.9889,0.0019],[0.9892,0.0011],[0.9888,5.8e-4],[0.9890,2.7e-4],[0.9891,9e-5],
  [0.9903,0.026],[0.9908,0.0145],[0.9902,0.0082],[0.9907,0.0046],[0.9904,0.0026],[0.9906,0.0015],[0.9903,8e-4],[0.9907,4.2e-4],[0.9905,1.6e-4],
  [0.9922,0.022],[0.9917,0.0128],[0.9923,0.0072],[0.9918,0.004],[0.9921,0.0023],[0.9919,0.0013],[0.9922,7.2e-4],[0.9918,3.6e-4],[0.9920,1.3e-4],[0.9921,6e-5],
  [0.9933,0.019],[0.9938,0.011],[0.9932,0.0062],[0.9937,0.0035],[0.9934,0.002],[0.9936,0.0011],[0.9933,6.2e-4],[0.9937,3e-4],[0.9935,1.1e-4],
  [0.9952,0.016],[0.9947,0.0093],[0.9953,0.0053],[0.9948,0.003],[0.9951,0.0017],[0.9949,9.5e-4],[0.9952,5.2e-4],[0.9948,2.5e-4],[0.9950,9e-5],
  [0.9963,0.013],[0.9960,0.0078],[0.9964,0.0045],[0.9961,0.0026],[0.9963,0.0015],[0.9960,8.2e-4],[0.9962,4.4e-4],[0.9964,2e-4],[0.9961,7e-5],
  [0.9974,0.0095],[0.9971,0.0058],[0.9975,0.0034],[0.9972,0.002],[0.9974,0.0011],[0.9971,6.2e-4],[0.9973,3.3e-4],[0.9975,1.5e-4],
  [0.9983,0.0065],[0.9980,0.004],[0.9984,0.0024],[0.9981,0.0014],[0.9983,8e-4],[0.9980,4.5e-4],[0.9982,2.4e-4],[0.9984,1.1e-4],[0.9981,4e-5],
  [0.9991,0.004],[0.9988,0.0025],[0.9992,0.0015],[0.9989,9e-4],[0.9991,5e-4],[0.9988,2.8e-4],[0.9990,1.5e-4],[0.9992,7e-5],[0.9989,3e-5],[0.9991,1.2e-5],
  [0.9997,0.0028],[0.9995,0.0016],[0.9997,9e-4],[0.9995,5e-4],[0.9996,2.6e-4],[0.9997,1.3e-4],[0.9995,6e-5],[0.9996,2.8e-5],[0.9997,1.3e-5],[0.9995,6e-6],[0.9996,3e-6],[0.9997,1.6e-6],
  [0.9999,0.0012],[1.0,6e-4],[0.9999,3e-4],[1.0,1.5e-4],[0.9999,7e-5],[1.0,3.5e-5],[0.9999,1.6e-5],[1.0,8e-6],[0.9999,4e-6],[1.0,2e-6],[0.9999,1.2e-6],
  // dense part, in-between values
  [0.9658,0.04],[0.9657,0.012],[0.9659,0.0037],[0.9658,0.0012],[0.9672,0.028],[0.9673,0.0088],[0.9671,0.0028],[0.9672,9e-4],
  [0.9688,0.042],[0.9687,0.013],[0.9689,0.0042],[0.9688,0.0013],[0.9702,0.032],[0.9703,0.0095],[0.9701,0.003],[0.9702,0.001],[0.9703,5e-4],
  [0.9718,0.046],[0.9717,0.015],[0.9719,0.0046],[0.9718,0.0015],[0.9732,0.034],[0.9733,0.0098],[0.9731,0.0032],[0.9732,0.001],[0.9733,4e-4],
  [0.9748,0.038],[0.9747,0.013],[0.9749,0.0041],[0.9748,0.0013],[0.9762,0.03],[0.9763,0.0095],[0.9761,0.003],[0.9762,9.2e-4],[0.9763,4.5e-4],
  [0.9778,0.04],[0.9777,0.012],[0.9779,0.0036],[0.9778,0.0011],[0.9777,2.5e-4],[0.9792,0.028],[0.9793,0.0088],[0.9791,0.0027],[0.9792,8.2e-4],[0.9793,3.8e-4],
  [0.9808,0.035],[0.9807,0.0105],[0.9809,0.0033],[0.9808,0.001],[0.9807,2.2e-4],[0.9822,0.026],[0.9823,0.0082],[0.9821,0.0025],[0.9822,7.8e-4],[0.9823,3.4e-4],
  [0.9838,0.032],[0.9837,0.0098],[0.9839,0.003],[0.9838,9.2e-4],[0.9837,1.8e-4],[0.9852,0.024],[0.9853,0.0075],[0.9851,0.0023],[0.9852,7e-4],[0.9853,3e-4],
  [0.9868,0.028],[0.9867,0.0085],[0.9869,0.0026],[0.9868,8.2e-4],[0.9867,1.5e-4],[0.9882,0.022],[0.9883,0.0068],[0.9881,0.0021],[0.9882,6.5e-4],[0.9883,2.6e-4],
  [0.9898,0.024],[0.9897,0.0074],[0.9899,0.0023],[0.9898,7e-4],[0.9897,1.3e-4],[0.9912,0.018],[0.9913,0.0058],[0.9911,0.0018],[0.9912,5.6e-4],[0.9913,2e-4],
  [0.9928,0.016],[0.9927,0.005],[0.9929,0.0016],[0.9928,5e-4],[0.9927,9e-5],[0.9942,0.013],[0.9943,0.0042],[0.9941,0.0013],[0.9942,4e-4],[0.9943,1.5e-4],
  [0.9956,0.011],[0.9955,0.0036],[0.9957,0.0011],[0.9956,3.4e-4],[0.9955,6e-5],[0.9968,0.0078],[0.9967,0.0025],[0.9969,8e-4],[0.9968,2.5e-4],
  [0.9978,0.0052],[0.9977,0.0018],[0.9979,5.8e-4],[0.9978,1.8e-4],[0.9977,5e-5],[0.9986,0.0032],[0.9985,0.0011],[0.9987,3.6e-4],[0.9986,1e-4],[0.9985,2e-5]
];

// ---------- layout ----------
const svg = d3.select("#chart");
const plotTop = 20, plotBottom = 444;
const left = { x0: 108, x1: 537 };
const right = { x0: 568, x1: 996 };

const y = d3.scaleLog().domain([1e-6, 1000]).range([plotBottom, plotTop]);
const xMass = d3.scaleLinear().domain([9.8, 165.8]).range([left.x0, left.x1]);
const xCoupling = d3.scaleLinear().domain([0.89, 1.0045]).range([right.x0, right.x1]);

const yMinorTicks = [];
for (let e = -6; e < 3; e++) for (let m = 2; m <= 9; m++) yMinorTicks.push(m * Math.pow(10, e));

const formatSigma = v => {
  if (v >= 1) return String(Math.round(v));
  if (v >= 0.01) return String(+v.toPrecision(1));
  return "1E" + Math.round(Math.log10(v));
};

const RED = "#ff0000", GREEN = "#00ee00", BLUE = "#0000ee";
const star = d3.symbol().type(d3.symbolStar).size(30)();
const dot = d3.symbol().type(d3.symbolCircle).size(50)();
const tri = d3.symbol().type(d3.symbolTriangle).size(26)();

function styleAxis(g) {
  g.select(".domain").remove();
  g.selectAll(".tick line").attr("stroke", "#000").attr("stroke-width", 1.4);
  g.selectAll(".tick text")
    .style("font-size", "20px")
    .style("letter-spacing", "0.4px")
    .style("font-family", "'Liberation Sans', Arial, sans-serif")
    .style("font-weight", "bold")
    .attr("fill", "#000");
}

function drawPanel(p, x, labelTicks, minorTicks, fmtX, showYLabels) {
  const g = svg.append("g");
  const none = () => "";
  // y axis on the left, ticks pointing out
  g.append("g").attr("transform", `translate(${p.x0},0)`)
    .call(d3.axisLeft(y).tickValues(yMajorTicks).tickSize(7).tickSizeOuter(0).tickPadding(4)
      .tickFormat(showYLabels ? formatSigma : none))
    .call(styleAxis);
  g.append("g").attr("transform", `translate(${p.x0},0)`)
    .call(d3.axisLeft(y).tickValues(yMinorTicks).tickSize(4).tickSizeOuter(0).tickFormat(none))
    .call(styleAxis);
  // mirrored y ticks on the right, pointing in
  g.append("g").attr("transform", `translate(${p.x1},0)`)
    .call(d3.axisLeft(y).tickValues(yMajorTicks).tickSize(7).tickSizeOuter(0).tickFormat(none))
    .call(styleAxis);
  g.append("g").attr("transform", `translate(${p.x1},0)`)
    .call(d3.axisLeft(y).tickValues(yMinorTicks).tickSize(4).tickSizeOuter(0).tickFormat(none))
    .call(styleAxis);
  // x axis at the bottom, ticks pointing out
  g.append("g").attr("transform", `translate(0,${plotBottom})`)
    .call(d3.axisBottom(x).tickValues(labelTicks).tickSize(6).tickSizeOuter(0).tickPadding(19).tickFormat(fmtX))
    .call(styleAxis);
  g.append("g").attr("transform", `translate(0,${plotBottom})`)
    .call(d3.axisBottom(x).tickValues(minorTicks).tickSize(4).tickSizeOuter(0).tickFormat(none))
    .call(styleAxis);
  // mirrored x ticks along the top, pointing in
  g.append("g").attr("transform", `translate(0,${plotTop})`)
    .call(d3.axisBottom(x).tickValues(labelTicks).tickSize(7).tickSizeOuter(0).tickFormat(none))
    .call(styleAxis);
  g.append("g").attr("transform", `translate(0,${plotTop})`)
    .call(d3.axisBottom(x).tickValues(minorTicks).tickSize(4).tickSizeOuter(0).tickFormat(none))
    .call(styleAxis);
  // frame
  g.append("rect").attr("x", p.x0).attr("y", plotTop)
    .attr("width", p.x1 - p.x0).attr("height", plotBottom - plotTop)
    .attr("fill", "none").attr("stroke", "#000").attr("stroke-width", 2);
}

function drawPoints(data, x, shape, color) {
  svg.append("g").selectAll("path").data(data).join("path")
    .attr("d", shape)
    .attr("fill", color)
    .attr("transform", d => `translate(${x(d[0])},${y(d[1])})`);
}

// left panel points
drawPoints(hA1VsMass, xMass, star, RED);
drawPoints(zh1VsMass, xMass, dot, GREEN);
// right panel points
drawPoints(hA1VsCoupling, xCoupling, star, RED);
drawPoints(zh1VsCoupling, xCoupling, dot, GREEN);
drawPoints(zhVsCoupling, xCoupling, tri, BLUE);

drawPanel(left, xMass, massLabelTicks, massMinorTicks, d3.format("d"), true);
drawPanel(right, xCoupling, couplingLabelTicks, couplingMinorTicks, d3.format(".2f"), false);

// ---------- axis titles ----------
svg.append("text")
  .attr("transform", "translate(35,209) rotate(-90)")
  .attr("text-anchor", "middle")
  .style("font-size", "28px")
  .text("σ(fb)");

const massTitle = svg.append("text").attr("x", 247).attr("y", 523).style("font-size", "30px");
massTitle.append("tspan").text("M");
massTitle.append("tspan").style("font-size", "17px").attr("dy", 1).text("A1(h1)");
massTitle.append("tspan").attr("dy", -1).text("(GeV)");

// g_hZZ / g_hZZ^SM
function titlePiece(txt, x, baseline, size) {
  svg.append("text").attr("x", x).attr("y", baseline).style("font-size", size + "px").text(txt);
}
titlePiece("g", 703, 513, 30);
titlePiece("hZZ", 722, 529, 18);
titlePiece("/", 754, 513, 30);
titlePiece("g", 762, 513, 30);
titlePiece("SM", 784, 486, 16.5);
titlePiece("hZZ", 784, 529, 18);

// ---------- legends ----------
function legendRow(x, yy, shape, color, main, sub) {
  svg.append("path").attr("d", shape).attr("fill", color).attr("transform", `translate(${x},${yy})`);
  const t = svg.append("text").attr("x", x + 27).attr("y", yy + 7).style("font-size", "24px");
  t.append("tspan").text(main);
  if (sub) t.append("tspan").style("font-size", "15px").text(sub);
}
legendRow(466, 58, dot, GREEN, "Zh", "1");
legendRow(466, 90, star, RED, "hA", "1");

legendRow(582, 55, tri, BLUE, "Zh", "");
legendRow(582, 88, dot, GREEN, "Zh", "1");
legendRow(582, 120, star, RED, "hA", "1");
</script>
</body>
</html>
